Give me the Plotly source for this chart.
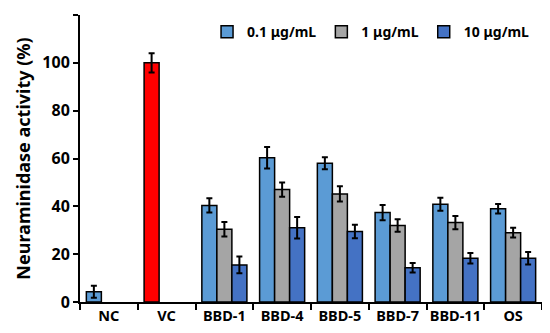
import plotly.graph_objects as go

categories = ["NC", "VC", "BBD-1", "BBD-4", "BBD-5", "BBD-7", "BBD-11", "OS"]
series_names = ["0.1 μg/mL", "1 μg/mL", "10 μg/mL"]
vals_01 = [4.3, 100, 40.4, 60.3, 58.0, 37.4, 40.9, 39.0]
err_01 = [2.5, 4.0, 3.0, 4.5, 2.5, 3.2, 2.7, 2.0]
vals_1 = [None, None, 30.4, 47.0, 45.2, 32.0, 33.2, 29.0]
err_1 = [0, 0, 3.0, 3.0, 3.2, 2.6, 2.8, 2.0]
vals_10 = [None, None, 15.5, 31.0, 29.5, 14.3, 18.3, 18.3]
err_10 = [0, 0, 3.5, 4.5, 2.8, 2.0, 2.2, 2.6]

colors = ["#5B9BD5", "#A5A5A5", "#4472C4"]
vc_color = "#FF0000"

fig = go.Figure()
c01 = [vc_color if c == "VC" else colors[0] for c in categories]
for name, vals, errs, col in [
    (series_names[0], vals_01, err_01, c01),
    (series_names[1], vals_1, err_1, colors[1]),
    (series_names[2], vals_10, err_10, colors[2]),
]:
    fig.add_trace(go.Bar(
        x=categories, y=vals, name=name,
        marker=dict(color=col, line=dict(color="black", width=1.5)),
        error_y=dict(type="data", array=errs, visible=True, color="black", thickness=2, width=3),
    ))

font = "Noto Sans"
fig.update_layout(
    width=542, height=325,
    barmode="group", bargap=0.22, bargroupgap=0,
    plot_bgcolor="white", paper_bgcolor="white",
    margin=dict(l=72, r=8, t=7, b=31, autoexpand=False),
    font=dict(family=font, size=14, color="black", weight="bold"),
    showlegend=True,
    legend=dict(orientation="h", x=0.275, y=0.94, xanchor="left", yanchor="middle",
                font=dict(family=font, size=14, color="black", weight="bold"),
                bgcolor="rgba(0,0,0,0)", itemwidth=30, tracegroupgap=0),
    xaxis=dict(showline=True, linecolor="black", linewidth=2, ticks="outside", tickson="boundaries",
               ticklen=6, tickwidth=2, tickcolor="black", showgrid=False, tickangle=0,
               tickfont=dict(family=font, size=14.5, weight="bold")),
    yaxis=dict(range=[0, 120], dtick=20, showline=True, linecolor="black", linewidth=2,
               ticks="outside", ticklen=5, tickwidth=2, tickcolor="black", showgrid=False, zeroline=False,
               tickfont=dict(family=font, size=16, weight="bold"),
               title=dict(text="Neuraminidase activity (%)", font=dict(family=font, size=18, weight="bold"), standoff=7)),
)
fig.write_html("out.html")
